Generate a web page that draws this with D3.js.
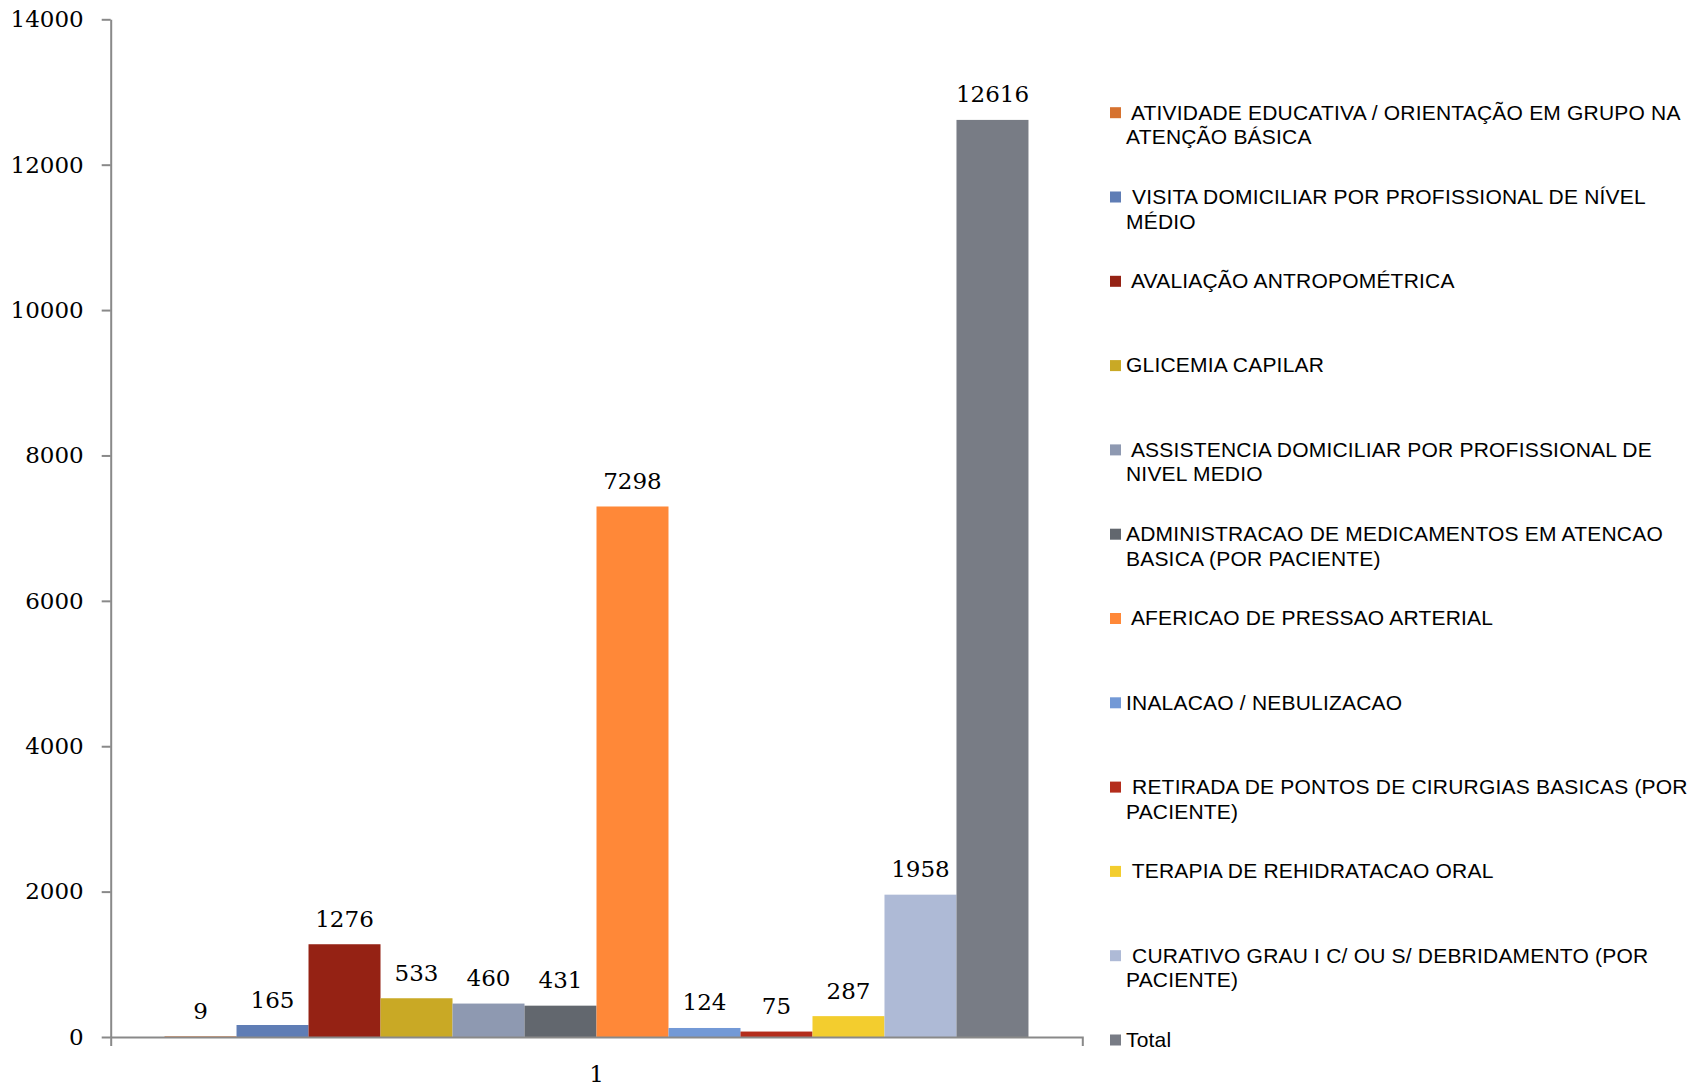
<!DOCTYPE html>
<html>
<head>
<meta charset="utf-8">
<script src="https://cdn.jsdelivr.net/npm/d3@7"></script>
<style>
    body { margin: 0; background: white; }
    svg { display: block; }
</style>
</head>
<body>
<svg id="chart" width="1708" height="1090"></svg>
<script>
// series names, "\n" marks where the legend wraps
var series_names = [
    " ATIVIDADE EDUCATIVA / ORIENTAÇÃO EM GRUPO NA\nATENÇÃO BÁSICA",
    " VISITA DOMICILIAR POR PROFISSIONAL DE NÍVEL\nMÉDIO",
    " AVALIAÇÃO ANTROPOMÉTRICA",
    "GLICEMIA CAPILAR",
    " ASSISTENCIA DOMICILIAR POR PROFISSIONAL DE\nNIVEL MEDIO",
    "ADMINISTRACAO DE MEDICAMENTOS EM ATENCAO\nBASICA (POR PACIENTE)",
    " AFERICAO DE PRESSAO ARTERIAL",
    "INALACAO / NEBULIZACAO",
    " RETIRADA DE PONTOS DE CIRURGIAS BASICAS (POR\nPACIENTE)",
    " TERAPIA DE REHIDRATACAO ORAL",
    " CURATIVO GRAU I C/ OU S/ DEBRIDAMENTO (POR\nPACIENTE)",
    "Total"
];
var series_values = [9, 165, 1276, 533, 460, 431, 7298, 124, 75, 287, 1958, 12616];
var series_colors = ["#d6722f", "#5f7db5", "#952214", "#c9a925", "#8e99b1", "#62676e",
                     "#ff8838", "#7399d6", "#b42d1c", "#f3cd2e", "#aebad6", "#787c85"];
var categories = ["1"];
var y_ticks = [0, 2000, 4000, 6000, 8000, 10000, 12000, 14000];

const SERIF = "'DejaVu Serif', 'Liberation Serif', serif";
const SANS = "'Liberation Sans', Arial, sans-serif";
const AXIS_COLOR = "#898989";

var svg = d3.select("svg#chart");

var x_outer = d3.scaleBand()
    .domain(categories)
    .range([110.7, 1082.3])
    .paddingInner(0)
    .paddingOuter(0.0623);

var x_inner = d3.scaleBand()
    .domain(series_names)
    .range([0, x_outer.bandwidth()])
    .padding(0);

var y = d3.scaleLinear()
    .domain([0, 14000])
    .range([1037, 19.3]);

var data = series_names.map((name, i) => ({ "Name": name, "Value": series_values[i], "Color": series_colors[i] }));

// bars
var group = svg.append("g")
    .attr("transform", "translate(" + x_outer(categories[0]) + ",0)");

group.selectAll("rect")
    .data(data)
    .join("rect")
    .attr("x", d => x_inner(d.Name))
    .attr("y", d => y(d.Value))
    .attr("width", x_inner.bandwidth())
    .attr("height", d => y(0) - y(d.Value))
    .attr("fill", d => d.Color);

group.selectAll("text")
    .data(data)
    .join("text")
    .attr("x", d => x_inner(d.Name) + x_inner.bandwidth() / 2)
    .attr("y", d => y(d.Value) - 17.5)
    .attr("text-anchor", "middle")
    .style("font-family", SERIF)
    .style("font-size", "23px")
    .attr("fill", "#000")
    .text(d => d.Value);

// y axis
var y_axis = svg.append("g")
    .attr("transform", "translate(110.7,0)")
    .call(d3.axisLeft(y).tickValues(y_ticks).tickFormat(d3.format("d"))
        .tickSize(9).tickSizeOuter(0).tickPadding(18));
y_axis.selectAll("text")
    .style("font-family", SERIF)
    .style("font-size", "23px")
    .attr("fill", "#000");

// x axis
var x_axis = svg.append("g")
    .attr("transform", "translate(0," + y(0) + ")")
    .call(d3.axisBottom(x_outer).tickSize(0).tickSizeOuter(9).tickPadding(29));
x_axis.selectAll("text")
    .style("font-family", SERIF)
    .style("font-size", "23px")
    .attr("fill", "#000");

svg.selectAll(".domain, .tick line")
    .attr("stroke", AXIS_COLOR)
    .attr("stroke-width", 2);

// legend
const LEGEND_TOP = 112.7;
const LEGEND_STEP = 84.3;
var legend = svg.append("g")
    .attr("transform", "translate(1110,0)");

var items = legend.selectAll("g")
    .data(data)
    .join("g")
    .attr("transform", (d, i) => "translate(0," + (LEGEND_TOP + i * LEGEND_STEP) + ")");

items.append("rect")
    .attr("x", 0)
    .attr("y", -5.5)
    .attr("width", 11)
    .attr("height", 11)
    .attr("fill", d => d.Color);

items.append("text")
    .attr("x", 16)
    .attr("y", 6.8)
    .style("font-family", SANS)
    .style("font-size", "21px")
    .style("letter-spacing", "0.2px")
    .style("white-space", "pre")
    .attr("fill", "#000")
    .selectAll("tspan")
    .data(d => d.Name.split("\n"))
    .join("tspan")
    .attr("x", 16)
    .attr("dy", (d, i) => i == 0 ? 0 : 24.7)
    .text(d => d);
</script>
</body>
</html>
